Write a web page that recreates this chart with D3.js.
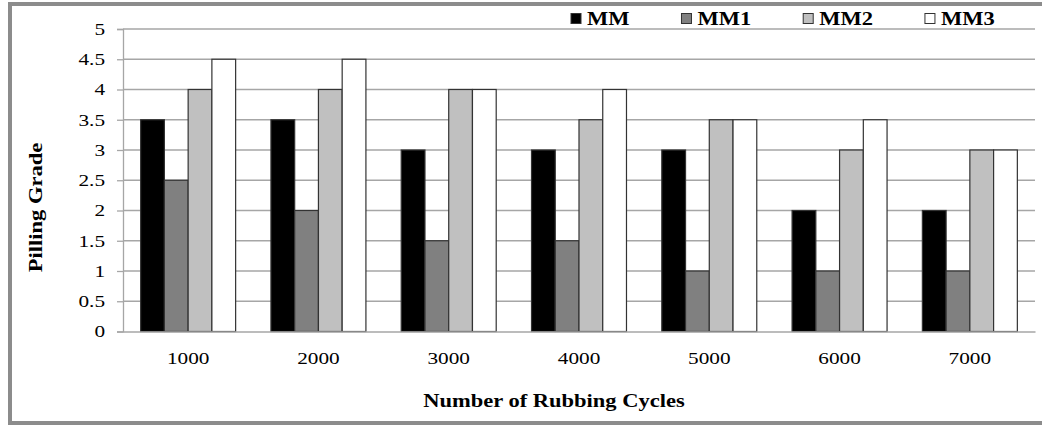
<!DOCTYPE html>
<html>
<head>
<meta charset="utf-8">
<script src="https://cdn.jsdelivr.net/npm/d3@7"></script>
<style>
  html, body { margin: 0; padding: 0; background: #fff; }
  svg { display: block; }
  text { font-family: "Liberation Serif", "Times New Roman", serif; fill: #000; }
</style>
</head>
<body>
<svg id="chart" width="1042" height="425"></svg>
<script>
const categories = ["1000", "2000", "3000", "4000", "5000", "6000", "7000"];
const seriesNames = ["MM", "MM1", "MM2", "MM3"];
const seriesMM  = [3.5, 3.5, 3, 3, 3, 2, 2];
const seriesMM1 = [2.5, 2, 1.5, 1.5, 1, 1, 1];
const seriesMM2 = [4, 4, 4, 3.5, 3.5, 3, 3];
const seriesMM3 = [4.5, 4.5, 4, 4, 3.5, 3.5, 3];
const yTicks = [0, 0.5, 1, 1.5, 2, 2.5, 3, 3.5, 4, 4.5, 5];
const yTickLabels = ["0", "0.5", "1", "1.5", "2", "2.5", "3", "3.5", "4", "4.5", "5"];
const colors = ["#000000", "#808080", "#c0c0c0", "#ffffff"];

const allSeries = [seriesMM, seriesMM1, seriesMM2, seriesMM3];
const STRETCH = 1.25;

const svg = d3.select("#chart");
const plot = { left: 123, right: 1035, top: 29, bottom: 331.5 };

// outer frame
svg.append("rect")
  .attr("x", 10).attr("y", 4)
  .attr("width", 1060).attr("height", 419)
  .attr("fill", "#fff")
  .attr("stroke", "#8c8c8c").attr("stroke-width", 4);

const x0 = d3.scaleBand().domain(categories)
  .range([plot.left, plot.right])
  .paddingInner(0.271).paddingOuter(0.1355);
const x1 = d3.scaleBand().domain(seriesNames).range([0, x0.bandwidth()]);
const y = d3.scaleLinear().domain([0, 5]).range([plot.bottom, plot.top]);

// gridlines
svg.append("g")
  .selectAll("line").data(yTicks.filter(d => d > 0)).join("line")
  .attr("x1", plot.left).attr("x2", plot.right)
  .attr("y1", d => y(d)).attr("y2", d => y(d))
  .attr("stroke", "#a6a6a6").attr("stroke-width", 1.3);

// y axis
const yAxis = d3.axisLeft(y).tickValues(yTicks)
  .tickFormat((d, i) => yTickLabels[i]).tickSize(6).tickPadding(12);
const gy = svg.append("g").attr("transform", `translate(${plot.left},0)`).call(yAxis);
gy.select(".domain").attr("stroke", "#a6a6a6").attr("stroke-width", 1.3);
gy.selectAll(".tick line").attr("stroke", "#a6a6a6").attr("stroke-width", 1.3);
gy.selectAll(".tick text")
  .attr("font-family", "Liberation Serif, Times New Roman, serif")
  .attr("font-size", 17).attr("fill", "#000");

// bars
const groups = svg.append("g").selectAll("g").data(categories).join("g")
  .attr("transform", d => `translate(${x0(d)},0)`);
groups.selectAll("rect")
  .data((c, ci) => seriesNames.map((s, si) => ({ s, si, v: allSeries[si][ci] })))
  .join("rect")
  .attr("x", d => x1(d.s))
  .attr("width", x1.bandwidth())
  .attr("y", d => y(d.v))
  .attr("height", d => y(0) - y(d.v))
  .attr("fill", d => colors[d.si])
  .attr("stroke", "#333").attr("stroke-width", 1.2);

// x axis
const xAxis = d3.axisBottom(x0).tickSize(0).tickPadding(20);
const gx = svg.append("g").attr("transform", `translate(0,${plot.bottom})`).call(xAxis);
gx.select(".domain").attr("stroke", "#a6a6a6").attr("stroke-width", 1.3);
gx.selectAll(".tick text")
  .attr("font-family", "Liberation Serif, Times New Roman, serif")
  .attr("font-size", 17).attr("fill", "#000");

// axis titles
svg.append("text")
  .attr("x", 554).attr("y", 407)
  .attr("text-anchor", "middle")
  .attr("font-size", 18).attr("font-weight", "bold")
  .text("Number of Rubbing Cycles");
svg.append("text")
  .attr("transform", "translate(42,207.5) rotate(-90)")
  .attr("text-anchor", "middle")
  .attr("font-size", 18).attr("font-weight", "bold")
  .text("Pilling Grade");

// stretch all text along its direction
function stretch(sel) {
  sel.each(function () {
    const len = this.getComputedTextLength();
    d3.select(this).attr("textLength", len * STRETCH).attr("lengthAdjust", "spacingAndGlyphs");
  });
}
stretch(svg.selectAll("text"));

// legend
const legend = svg.append("g");
let lx = 571;
seriesNames.forEach((name, i) => {
  legend.append("rect")
    .attr("x", lx).attr("y", 13.5).attr("width", 10).attr("height", 10)
    .attr("fill", colors[i]).attr("stroke", "#333").attr("stroke-width", 1);
  const t = legend.append("text")
    .attr("x", lx + 16).attr("y", 25)
    .attr("font-size", 18).attr("font-weight", "bold")
    .text(name);
  const len = t.node().getComputedTextLength() * STRETCH;
  t.attr("textLength", len).attr("lengthAdjust", "spacingAndGlyphs");
  lx = lx + 16 + len + 52;
});
</script>
</body>
</html>
